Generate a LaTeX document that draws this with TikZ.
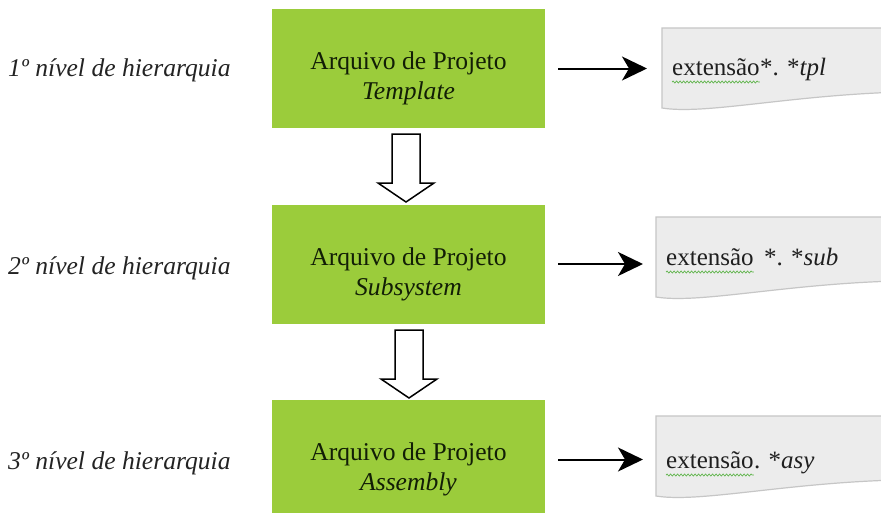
\documentclass[tikz,border=0pt]{standalone}
\usepackage{fontspec}
\setmainfont{Liberation Serif}
\usetikzlibrary{arrows.meta,decorations.pathmorphing}
\definecolor{boxgreen}{RGB}{155,204,59}
\definecolor{boxtext}{RGB}{18,30,6}
\definecolor{docfill}{RGB}{236,236,236}
\definecolor{docline}{RGB}{198,198,198}
\definecolor{squig}{RGB}{95,180,75}
\definecolor{lvltext}{RGB}{35,35,35}
\tikzset{
  levelbox/.style={rectangle, fill=boxgreen, draw=none, minimum width=273pt, minimum height=119pt, inner sep=0pt},
  boxlabel/.style={align=center, font=\fontsize{25.6}{30}\selectfont, text=boxtext, inner sep=0pt},
  lvllabel/.style={anchor=west, font=\fontsize{25.6}{30}\selectfont\itshape, text=lvltext, inner sep=0pt},
  doctext/.style={anchor=base west, font=\fontsize{25}{30}\selectfont, text=black!88, inner sep=0pt},
  harrow/.style={line width=2pt, -{Stealth[length=25pt,width=24pt,inset=7pt]}},
  squiggle/.style={draw=squig, line width=0.7pt, decorate, decoration={snake, amplitude=1pt, segment length=3.5pt}},
  docstyle/.style={fill=docfill, draw=docline, line width=1.2pt},
  pics/docshape/.style={code={
    \draw[docstyle] (0,0) -- (240,0) -- (240,64) .. controls (128,67) and (43,87) .. (0,80) -- cycle;
  }},
  pics/downblock/.style={code={
    \draw[fill=white, draw=black, line width=1.5pt, line join=miter]
      (-14,0) -- (14,0) -- (14,49) -- (28,49) -- (0,68) -- (-28,49) -- (-14,49) -- cycle;
  }},
}
\begin{document}
\begin{tikzpicture}[x=1pt,y=-1pt]
\useasboundingbox (0,0) rectangle (881,512);
\fill[white] (0,0) rectangle (881,512);

% level labels
\node[lvllabel] (l1) at (8,70) {1º nível de hierarquia};
\node[lvllabel] (l2) at (8,268) {2º nível de hierarquia};
\node[lvllabel] (l3) at (8,463) {3º nível de hierarquia};

% green boxes
\node[levelbox] (b1) at (408.5,68.5) {};
\node[levelbox] (b2) at (408.5,264) {};
\node[levelbox] (b3) at (408.5,459.5) {};
\node[boxlabel] (t1) at ([yshift=-10pt]b1.center) {Arquivo de Projeto\\\textit{Template}};
\node[boxlabel] (t2) at ([yshift=-10pt]b2.center) {Arquivo de Projeto\\\textit{Subsystem}};
\node[boxlabel] (t3) at ([yshift=-10pt]b3.center) {Arquivo de Projeto\\\textit{Assembly}};

% hollow down arrows
\pic at (406,134) {downblock};
\pic at (409,330) {downblock};

% document shapes
\pic at (662,28) {docshape};
\pic at (656,217) {docshape};
\pic at (656,416) {docshape};
\coordinate (d1) at (662,68);
\coordinate (d2) at (656,265);
\coordinate (d3) at (656,461);

% arrows to documents
\draw[harrow, shorten <=13pt, shorten >=15pt] (b1.east) -- (b1.east -| d1);
\draw[harrow, shorten <=13pt, shorten >=13pt] (b2.east) -- (b2.east -| d2);
\draw[harrow, shorten <=13pt, shorten >=13pt] (b3.east) -- (b3.east -| d3);

% document texts
\node[doctext] (e1) at (672,75) {extensão};
\node[doctext] (x1) at (e1.base east) {*. *\textit{tpl}};
\node[doctext] (e2) at (666,265) {extensão};
\node[doctext] (x2) at (e2.base east) {\hspace*{10pt}*. *\textit{sub}};
\node[doctext] (e3) at (666,468) {extensão};
\node[doctext] (x3) at (e3.base east) {. *\textit{asy}};
\draw[squiggle] ([yshift=-7pt]e1.base west) -- ([yshift=-7pt]e1.base east);
\draw[squiggle] ([yshift=-7pt]e2.base west) -- ([yshift=-7pt]e2.base east);
\draw[squiggle] ([yshift=-7pt]e3.base west) -- ([yshift=-7pt]e3.base east);
\end{tikzpicture}
\end{document}
